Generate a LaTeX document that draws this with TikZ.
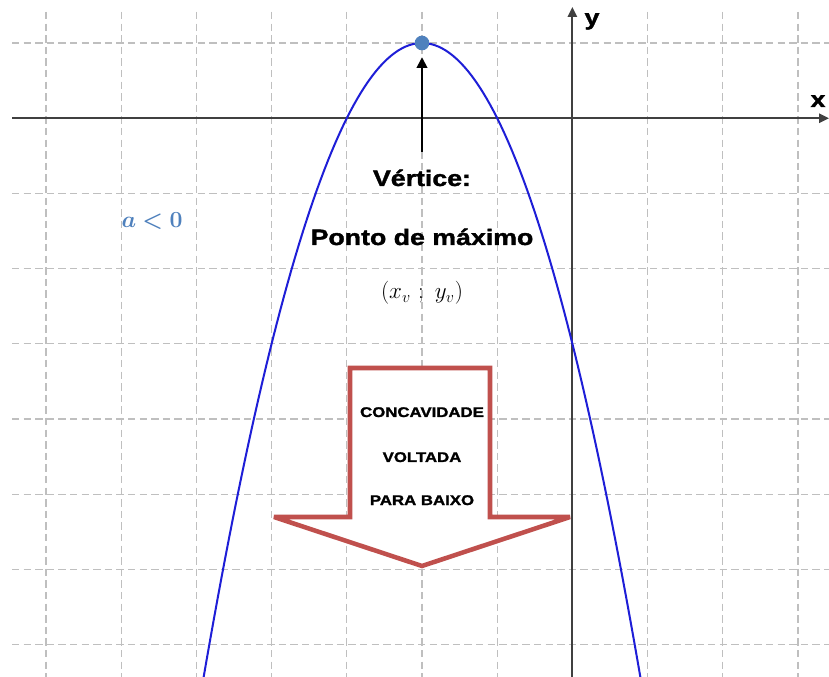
\documentclass[tikz,border=0pt]{standalone}
\usepackage{fontspec}
\usepackage{amsmath}
\usepackage{bm}
\usetikzlibrary{arrows.meta}
\newfontfamily\heavysans[FakeStretch=1.2, BoldFeatures={FakeBold=1.6}]{Liberation Sans}
\definecolor{gridgray}{RGB}{191,191,191}
\definecolor{axisgray}{RGB}{64,64,64}
\definecolor{curveblue}{RGB}{30,30,215}
\definecolor{dotblue}{RGB}{79,129,189}
\definecolor{arrowred}{RGB}{192,80,77}
\tikzstyle{gridline} = [color=gridgray, line width=0.8pt, dash pattern={on 5.5pt off 3.2pt}]
\tikzstyle{axis} = [color=axisgray, line width=1.4pt, -{Triangle[length=7.5pt,width=7pt]}]
\tikzstyle{pointer} = [line width=1.4pt, -{Triangle[length=8pt,width=8pt]}]
\tikzstyle{bigtext} = [font=\heavysans\bfseries\fontsize{16.7}{20}\selectfont, anchor=base]
\tikzstyle{boxtext} = [font=\heavysans\bfseries\fontsize{10.5}{12}\selectfont, anchor=base]

\begin{document}
\begin{tikzpicture}[x=0.75pt,y=0.75pt,yscale=-1,xscale=1]
\fill [white] (0,0) rectangle (829,677);
\useasboundingbox (0,0) rectangle (829,677);

%Grid Lines (vertical)
\draw [gridline] (46,12) -- (46,677) ;
\draw [gridline] (121.2,12) -- (121.2,677) ;
\draw [gridline] (196.4,12) -- (196.4,677) ;
\draw [gridline] (271.6,12) -- (271.6,677) ;
\draw [gridline] (346.8,12) -- (346.8,677) ;
\draw [gridline] (422,12) -- (422,677) ;
\draw [gridline] (497.2,12) -- (497.2,677) ;
\draw [gridline] (647.6,12) -- (647.6,677) ;
\draw [gridline] (722.8,12) -- (722.8,677) ;
\draw [gridline] (798,12) -- (798,677) ;
%Grid Lines (horizontal)
\draw [gridline] (12,43) -- (829,43) ;
\draw [gridline] (12,193.4) -- (829,193.4) ;
\draw [gridline] (12,268.6) -- (829,268.6) ;
\draw [gridline] (12,343.8) -- (829,343.8) ;
\draw [gridline] (12,419) -- (829,419) ;
\draw [gridline] (12,494.2) -- (829,494.2) ;
\draw [gridline] (12,569.4) -- (829,569.4) ;
\draw [gridline] (12,644.6) -- (829,644.6) ;

%Block Arrow
\draw [color=arrowred, line width=3.4pt, fill=white, miter limit=3] (350,368) -- (490,368) -- (490,517) -- (570,517) -- (422,566) -- (274,517) -- (350,517) -- cycle ;

%Axes
\coordinate (xfrom) at (12,118.2) ;
\coordinate (xto) at (829,118.2) ;
\coordinate (yfrom) at (572.4,677) ;
\coordinate (yto) at (572.4,7) ;
\draw [axis] (xfrom) -- (xto) ;
\draw [axis] (yfrom) -- (yto) ;

%Curve Lines
\draw [color=curveblue, line width=1.5pt] plot [domain=203:641, samples=120] (\x, {43 + 75.2*((\x-422)/75.2)^2}) ;

%Vertex
\node (vtxdot) [circle, fill=dotblue, inner sep=0pt, minimum size=11pt] at (422,43) {} ;
\coordinate (ptrfoot) at (422,152) ;
\draw [pointer, shorten >=5pt] (ptrfoot) -- (vtxdot) ;

% Text Node
\node (xlabel) [bigtext] at (818,107) {x} ;
% Text Node
\node (ylabel) [bigtext] at (592,25) {y} ;
% Text Node
\node (vertlabel) [bigtext] at (422,186) {Vértice:} ;
% Text Node
\node (maxlabel) [bigtext] at (422,245) {Ponto de máximo} ;
% Text Node
\node (coordlabel) [anchor=base, font=\fontsize{18}{21}\selectfont] at (422,299) {$(x_v\ ;\ y_v)$} ;
% Text Node
\node (alabel) [anchor=base, text=dotblue, font=\fontsize{16}{19}\selectfont] at (152,228) {$\bm{a<0}$} ;
% Text Node
\node (concline) [boxtext] at (422,417) {CONCAVIDADE} ;
\node (voltline) [boxtext] at (422,462) {VOLTADA} ;
\node (baixline) [boxtext] at (422,505) {PARA BAIXO} ;

\end{tikzpicture}
\end{document}
